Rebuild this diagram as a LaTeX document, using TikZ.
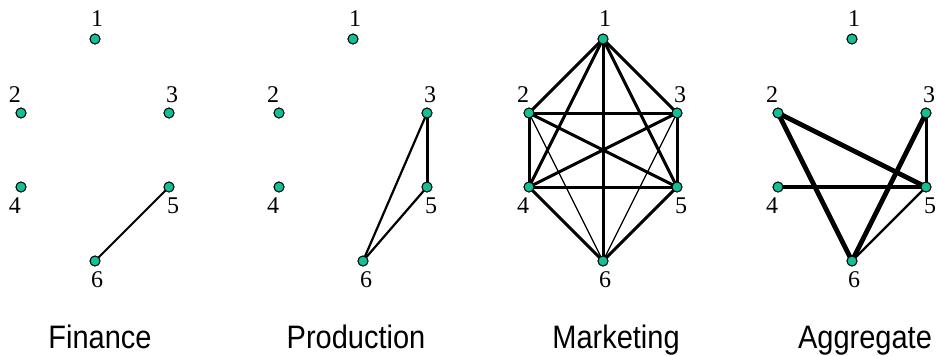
\documentclass[tikz,border=0pt]{standalone}
\usepackage{fontspec}
\setmainfont{Liberation Serif}
\newfontfamily\titlefont{Liberation Sans}
\definecolor{nodeteal}{RGB}{16,192,150}
\tikzset{
  vtx/.style={circle,draw=black,line width=0.9pt,fill=nodeteal,inner sep=0pt,minimum size=10pt},
  num/.style={font=\fontsize{24}{24}\selectfont,anchor=base,inner sep=0pt},
  ttl/.style={font=\titlefont\fontsize{29}{29}\selectfont,anchor=base,inner sep=0pt},
  e1/.style={line width=1.3pt},
  e2/.style={line width=2.2pt},
  e3/.style={line width=3pt},
  e4/.style={line width=4.8pt},
}
\newcommand{\graphnodes}[2]{%
  \node[vtx] (#1n1) at (#2+95,39) {};
  \node[vtx] (#1n2) at (#2+21,113) {};
  \node[vtx] (#1n3) at (#2+169,113) {};
  \node[vtx] (#1n4) at (#2+21,187) {};
  \node[vtx] (#1n5) at (#2+169,187) {};
}
\newcommand{\graphlabels}[2]{%
  \node[num] (#1l1) at (#2+97,27) {1};
  \node[num] (#1l2) at (#2+15,102) {2};
  \node[num] (#1l3) at (#2+172,102) {3};
  \node[num] (#1l4) at (#2+15,213) {4};
  \node[num] (#1l5) at (#2+173,213) {5};
}
\newcommand{\tallttl}[1]{\scalebox{1}[1.12]{#1}}
\begin{document}
\begin{tikzpicture}[x=1pt,y=-1pt]
\useasboundingbox (0,0) rectangle (937,356);
% Finance
\graphnodes{f}{0}
\node[vtx] (fn6) at (95,261) {};
\graphlabels{f}{0}
\node[num] (fl6) at (97,287) {6};
% Production
\graphnodes{p}{258}
\node[vtx] (pn6) at (363,261) {};
\graphlabels{p}{258}
\node[num] (pl6) at (366,287) {6};
% Marketing
\graphnodes{m}{508}
\node[vtx] (mn6) at (603,261) {};
\graphlabels{m}{508}
\node[num] (ml6) at (605,287) {6};
% Aggregate
\graphnodes{a}{757}
\node[vtx] (an6) at (852,261) {};
\graphlabels{a}{757}
\node[num] (al6) at (854,287) {6};

% Finance edges
\draw[line width=1.8pt] (fn5.center) -- (fn6.center);
% Production edges
\draw[e3] (pn3.center) -- (pn5.center);
\draw[e2] (pn3.center) -- (pn6.center);
\draw[e2] (pn5.center) -- (pn6.center);
% Marketing edges
\foreach \a/\b in {1/2,1/3,1/4,1/5,1/6,2/3,2/4,2/5,3/4,3/5,4/5,4/6,5/6}
  \draw[e3] (mn\a.center) -- (mn\b.center);
\draw[e1] (mn2.center) -- (mn6.center);
\draw[e1] (mn3.center) -- (mn6.center);
% Aggregate edges
\draw[e4] (an2.center) -- (an5.center);
\draw[e4] (an2.center) -- (an6.center);
\draw[e4] (an4.center) -- (an5.center);
\draw[e4] (an3.center) -- (an6.center);
\draw[e3] (an3.center) -- (an5.center);
\draw[e2] (an5.center) -- (an6.center);
% redraw vertices on top
\foreach \p in {f,p,m,a}
  \foreach \i in {1,...,6}
    \path (\p n\i) node[vtx] {};
% titles
\node[ttl] (t1) at (100,348) {\tallttl{Finance}};
\node[ttl] (t2) at (356,348) {\tallttl{Production}};
\node[ttl] (t3) at (616,348) {\tallttl{Marketing}};
\node[ttl] (t4) at (865,348) {\tallttl{Aggregate}};
\end{tikzpicture}
\end{document}
